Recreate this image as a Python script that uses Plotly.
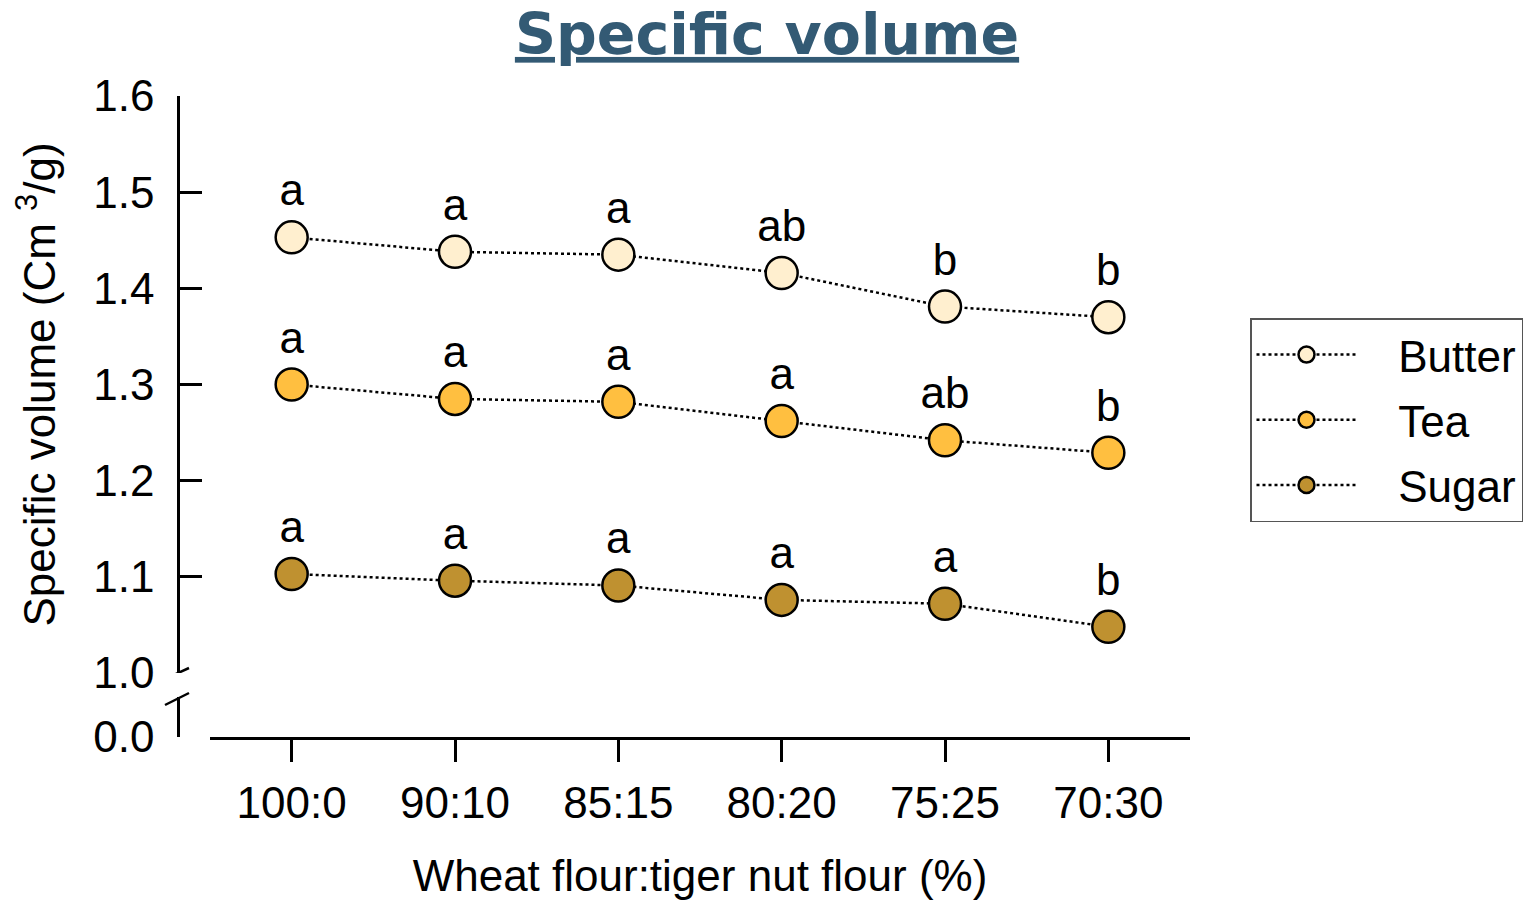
import plotly.graph_objects as go

categories = ["100:0", "90:10", "85:15", "80:20", "75:25", "70:30"]
series_names = ["Butter", "Tea", "Sugar"]
butter = [1.453, 1.438, 1.435, 1.416, 1.381, 1.370]
tea = [1.300, 1.285, 1.282, 1.262, 1.242, 1.229]
sugar = [1.103, 1.096, 1.091, 1.076, 1.072, 1.048]
butter_letters = ["a", "a", "a", "ab", "b", "b"]
tea_letters = ["a", "a", "a", "a", "ab", "b"]
sugar_letters = ["a", "a", "a", "a", "a", "b"]
colors = ["#FFEFCF", "#FFBF40", "#BF9130"]

W, H = 1540, 900
ML, MR, MT, MB = 178, 0, 96, 163
PW = W - ML - MR
PH = H - MT - MB

def px_x(p):
    return (p - ML) / PW

def px_y(p):
    return (H - MB - p) / PH

FONT = "Liberation Sans, Arial, sans-serif"
FS = 44
PAD = "\u00a0\u00a0\u00a0"

fig = go.Figure()
for name, vals, letters, col in zip(series_names, [butter, tea, sugar],
                                    [butter_letters, tea_letters, sugar_letters], colors):
    fig.add_trace(go.Scatter(
        x=categories, y=vals, name=PAD + name, text=letters,
        mode="lines+markers+text", textposition="top center",
        textfont=dict(family=FONT, size=FS, color="black"),
        line=dict(color="black", width=2.5, dash="dot"),
        marker=dict(size=32, color=col, line=dict(color="black", width=2.5)),
        legendgroup=name, cliponaxis=False,
    ))

# empty helper trace so the lower (broken) axis segment is drawn
fig.add_trace(go.Scatter(x=[categories[0]], y=[None], xaxis="x", yaxis="y2",
                         showlegend=False, hoverinfo="skip", mode="markers"))

axis_common = dict(showline=True, linecolor="black", linewidth=2.5, ticks="inside",
                   ticklen=22, tickwidth=2.5, tickcolor="black", showgrid=False,
                   zeroline=False, automargin=False,
                   tickfont=dict(family=FONT, size=FS, color="black"))

fig.update_layout(
    width=W, height=H,
    margin=dict(l=ML, r=MR, t=MT, b=MB, autoexpand=False),
    plot_bgcolor="white", paper_bgcolor="white",
    title=dict(text="<b><u>Specific volume</u></b>", x=767 / W, xanchor="center",
               xref="container", yref="container", y=1 - 34 / H, yanchor="middle",
               font=dict(family="DejaVu Sans, Verdana, sans-serif", size=57, color="#335A74")),
    xaxis=dict(domain=[px_x(210), px_x(1190)], anchor="y2", type="category",
               range=[-0.5, 5.5], showline=True, linecolor="black", linewidth=2.5,
               ticks="outside", ticklen=22, tickwidth=2.5, tickcolor="black",
               showgrid=False, zeroline=False, ticklabelstandoff=3, automargin=False,
               tickfont=dict(family=FONT, size=FS, color="black"),
               title=dict(text="Wheat flour:tiger nut flour (%)", standoff=38,
                          font=dict(family=FONT, size=FS, color="black"))),
    yaxis=dict(domain=[px_y(673), 1], anchor="free", position=0, range=[1.0, 1.6],
               dtick=0.1, tickformat=".1f", ticklabelstandoff=14,
               title=dict(text="Specific volume (Cm <sup>3</sup>/g)", standoff=22,
                          font=dict(family=FONT, size=FS, color="black")),
               **axis_common),
    yaxis2=dict(domain=[0, px_y(697)], anchor="free", position=0, range=[0, 0.1],
                tickvals=[0], ticktext=["0.0"], ticklabelstandoff=14, **axis_common),
    legend=dict(x=px_x(1250), y=px_y(318), xanchor="left", yanchor="top",
                bordercolor="#555555", borderwidth=1.5, bgcolor="white",
                font=dict(family=FONT, size=FS, color="black"),
                itemwidth=100, tracegroupgap=5),
    showlegend=True,
)

# axis break marks
fig.add_shape(type="line", xref="paper", xsizemode="pixel", xanchor=0, x0=-13, x1=11,
              yref="y", ysizemode="pixel", yanchor=1.0, y0=-6, y1=5,
              line=dict(color="black", width=2.5))
fig.add_shape(type="line", xref="paper", xsizemode="pixel", xanchor=0, x0=-13, x1=11,
              yref="y2 domain", ysizemode="pixel", yanchor=1.0, y0=-8, y1=4,
              line=dict(color="black", width=2.5))

fig.write_html("out.html", config={"displayModeBar": False},
               post_script="document.body.style.margin='0';")
